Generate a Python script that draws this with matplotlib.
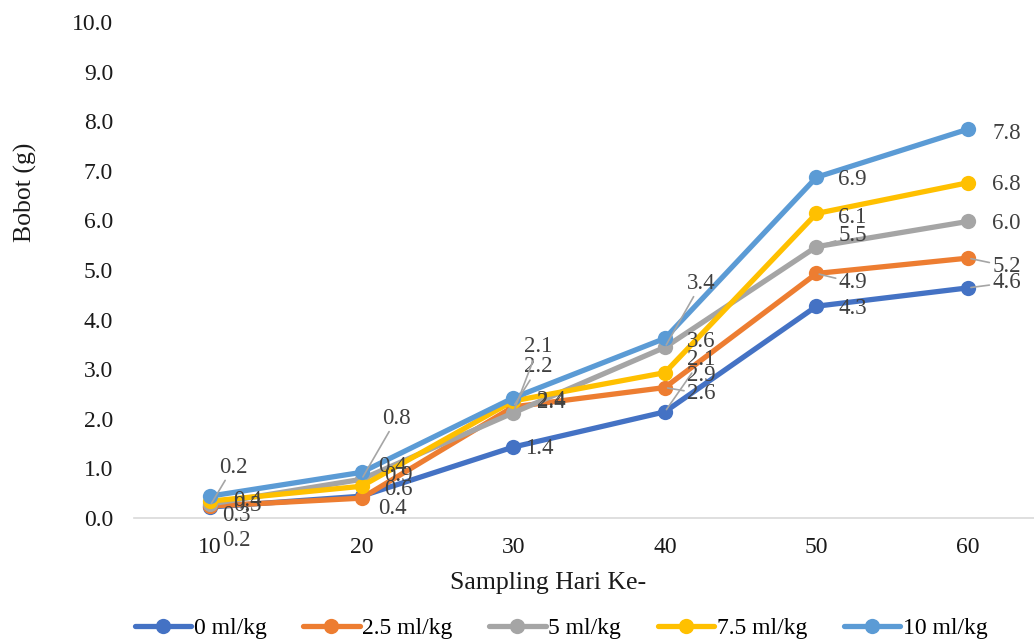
import matplotlib.pyplot as plt

plt.rcParams['font.family'] = ['Liberation Serif', 'DejaVu Serif']

hari = [10, 20, 30, 40, 50, 60]
series_names = ['0 ml/kg', '2.5 ml/kg', '5 ml/kg', '7.5 ml/kg', '10 ml/kg']
bobot_0 = [0.22, 0.44, 1.43, 2.14, 4.27, 4.64]
bobot_25 = [0.24, 0.40, 2.24, 2.63, 4.93, 5.24]
bobot_5 = [0.28, 0.78, 2.12, 3.44, 5.47, 5.98]
bobot_75 = [0.34, 0.64, 2.36, 2.93, 6.14, 6.76]
bobot_10 = [0.44, 0.92, 2.42, 3.62, 6.87, 7.84]
all_series = [bobot_0, bobot_25, bobot_5, bobot_75, bobot_10]
colors = ['#4472C4', '#ED7D31', '#A5A5A5', '#FFC000', '#5B9BD5']

# label offsets in pixels (dx, dy) and whether a leader line is drawn
label_pos = [
    [(12, -33, 0), (17, 30, 0), (12, -1, 0), (22, 52, 1), (22, -2, 0), (24, 5, 1)],
    [(9, 39, 1), (17, -10, 0), (11, 40, 1), (22, -6, 1), (22, -9, 1), (24, -8, 1)],
    [(12, -11, 0), (21, 61, 1), (11, 66, 1), (22, 64, 1), (22, 11, 1), (24, -2, 0)],
    [(23, -4, 0), (23, -3, 0), (24, 0, 0), (22, -3, 0), (22, -4, 0), (24, -2, 0)],
    [(23, -4, 0), (23, -3, 0), (24, -5, 0), (22, -3, 0), (22, -2, 0), (24, -4, 0)],
]

fig = plt.figure(figsize=(10.34, 6.39), dpi=100)
W, H = 1034, 639
ax = fig.add_axes([134 / W, (H - 518) / H, 910 / W, 496 / H])

for vals, name, c in zip(all_series, series_names, colors):
    ax.plot(hari, vals, color=c, lw=3.8, marker='o', markersize=11,
            markeredgewidth=0, label=name, solid_capstyle='round', clip_on=False)

for vals, offs in zip(all_series, label_pos):
    for x, v, (dx, dy, lead) in zip(hari, vals, offs):
        kw = {}
        if lead:
            kw['arrowprops'] = dict(arrowstyle='-', color='#A5A5A5', lw=1.2,
                                    shrinkA=0, shrinkB=2)
        ax.annotate(f'{v:.1f}', (x, v), xytext=(dx, dy), textcoords='offset pixels',
                    ha='left', va='center', fontsize=16.5, color='#404040', **kw)

ax.set_xlim(5, 65)
ax.set_ylim(0, 10)
ax.set_xticks(hari)
ax.set_yticks(range(0, 11))
ax.set_yticklabels([f'{t:.1f}' for t in range(0, 11)])
ax.tick_params(length=0, labelsize=17, colors='#1a1a1a')
ax.tick_params(axis='x', pad=14)
ax.tick_params(axis='y', pad=15)
for s in ['top', 'right', 'left']:
    ax.spines[s].set_visible(False)
ax.spines['bottom'].set_color('#D9D9D9')
ax.spines['bottom'].set_linewidth(1.2)

fig.text(25 / W, 1 - 192 / H, 'Bobot (g)', rotation=90, ha='center', va='center',
         fontsize=18.5, color='#1a1a1a')
fig.text(548 / W, 1 - 583 / H, 'Sampling Hari Ke-', ha='center', va='center',
         fontsize=18.5, color='#1a1a1a')

handles, labels = ax.get_legend_handles_labels()
fig.legend(handles, labels, loc='center', bbox_to_anchor=(561 / W, 1 - 628 / H),
           ncol=5, frameon=False, fontsize=17, handlelength=2.4,
           handletextpad=0.1, columnspacing=1.55, borderpad=0)

fig.savefig('out.png', dpi=100)
